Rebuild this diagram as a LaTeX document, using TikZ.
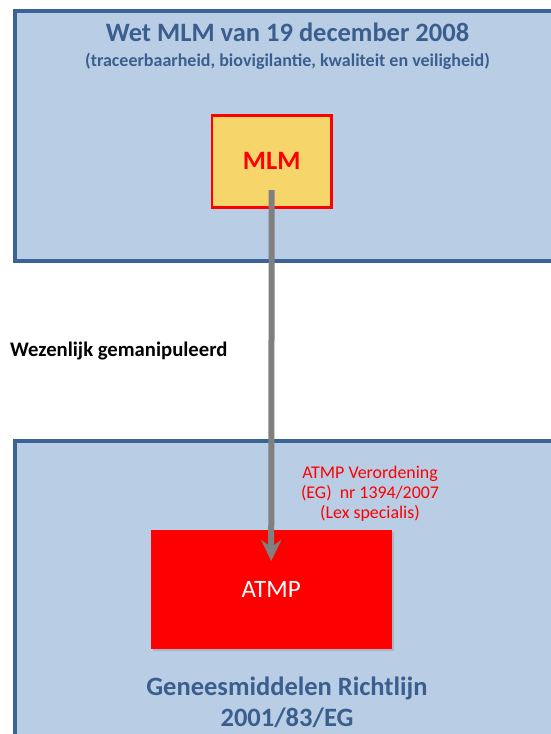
\documentclass[tikz,border=0pt]{standalone}
\usepackage{fontspec}
\setmainfont{Carlito}
\usetikzlibrary{positioning, arrows.meta, shadows}

\definecolor{framefill}{HTML}{B9CDE5}
\definecolor{framedraw}{HTML}{3A6496}
\definecolor{titleblue}{HTML}{3A5F8E}
\definecolor{mlmyellow}{HTML}{F6D66A}
\definecolor{flowgray}{HTML}{808080}

\begin{document}
\begin{tikzpicture}[
    % pixel-like units, y pointing down
    x=1pt, y=-1pt,
    lawframe/.style={
        rectangle,
        draw=framedraw,
        line width=4pt,
        fill=framefill,
        anchor=north west,
        minimum width=545pt,
        inner sep=0pt,
        outer sep=0pt
    },
    lawtitle/.style={
        font=\fontsize{26.5}{31.7}\selectfont\bfseries,
        text=titleblue,
        align=center
    },
    lawsub/.style={
        font=\fontsize{18}{22}\selectfont\bfseries,
        text=titleblue
    },
    product/.style={
        rectangle,
        inner sep=0pt,
        outer sep=0pt,
        drop shadow={opacity=0.3, shadow xshift=2pt, shadow yshift=-2pt}
    },
    regel/.style={
        font=\fontsize{17.9}{20}\selectfont,
        text=red,
        align=center
    },
    flow/.style={
        -{Stealth[length=21pt, width=20pt, inset=7pt]}, % wide arrowhead
        draw=flowgray,
        line width=6pt
    }
]
    \useasboundingbox (0,0) rectangle (550,734);

    % --- 1. Frames ---
    \node[lawframe, minimum height=249.5pt] (wet) at (15.3,11.3) {};
    \node[lawframe, minimum height=320pt] (richtlijn) at (15.3,440.5) {};

    % --- 2. Titles ---
    \node[lawtitle, anchor=base] (wettitle) at (287.5,41.7) {Wet MLM van 19 december 2008};
    \node[lawsub, anchor=base] (wetsub) at (287.5,66) {(traceerbaarheid, biovigilantie, kwaliteit en veiligheid)};
    % base of a multi-line node = its last line
    \node[lawtitle, anchor=base] (richttitle) at (287,726.7) {Geneesmiddelen Richtlijn\\2001/83/EG};

    % --- 3. Products ---
    \node[product, fill=mlmyellow, draw=red, line width=2.7pt,
          minimum width=119.5pt, minimum height=92pt,
          font=\fontsize{26.5}{32}\selectfont\bfseries, text=red] (mlm) at (271.7,161.4) {MLM};
    \node[product, fill=red, minimum width=241pt, minimum height=119.3pt,
          font=\fontsize{25}{30}\selectfont, text=white] (atmp) at (271.2,589.7) {ATMP};

    % --- 4. Labels ---
    \node[font=\fontsize{20.7}{25}\selectfont\bfseries, anchor=base west, inner sep=0pt] (wezenlijk) at (10,356.7) {Wezenlijk gemanipuleerd};
    \node[regel, anchor=base] (verordening) at (370,518.3) {ATMP Verordening\\(EG)~~nr 1394/2007\\(Lex specialis)};

    % --- 5. Edge ---
    % MLM -> ATMP
    \draw[flow] ([yshift=-28.6pt]mlm.center) -- ([yshift=-31pt]atmp.north);

\end{tikzpicture}
\end{document}
